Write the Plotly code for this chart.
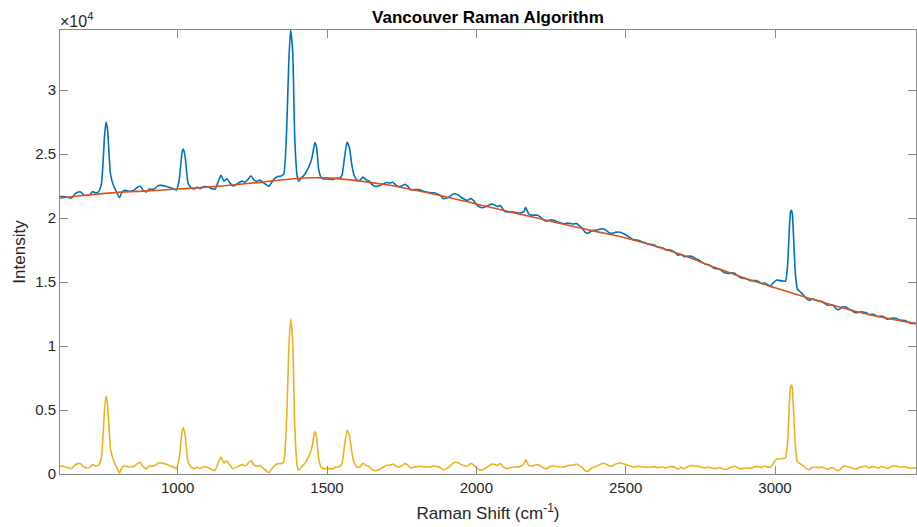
import plotly.graph_objects as go

# Raman shift sample positions (cm^-1)
shift = [
    605,615,625,635,645,655,665,675,685,695,
    705,715,725,735,745,755,760,765,775,785,
    795,805,815,825,835,845,855,865,875,885,
    895,905,915,925,935,945,955,965,975,985,
    995,1005,1015,1019,1025,1035,1045,1055,1065,1075,
    1085,1095,1105,1115,1125,1135,1145,1155,1165,1175,
    1185,1195,1205,1215,1225,1235,1245,1255,1265,1275,
    1285,1295,1305,1315,1325,1335,1345,1355,1365,1372,
    1378,1385,1392,1400,1405,1415,1425,1435,1445,1452,
    1459,1465,1472,1480,1490,1500,1510,1520,1530,1540,
    1550,1558,1567,1575,1582,1590,1600,1610,
    1620,1630,1640,1650,1660,1670,1680,1690,1700,1710,
    1720,1730,1740,1750,1760,1770,1780,1790,1800,1810,
    1820,1830,1840,1850,1860,1870,1880,1890,1900,1910,
    1920,1930,1940,1950,1960,1970,1980,1990,2000,2010,
    2020,2030,2040,2050,2060,2070,2080,2090,2100,2110,
    2120,2130,2140,2150,2160,2165,2175,2185,2195,2205,
    2215,2225,2235,2245,2255,2265,2275,2285,2295,2305,
    2315,2325,2335,2345,2355,2365,2375,2385,2395,2405,
    2415,2425,2435,2445,2455,2465,2475,2485,2495,2505,
    2515,2525,2535,2545,2555,2565,
    2575,2585,2595,2605,2615,2625,2635,2645,2655,2665,
    2675,2685,2695,2705,2715,2725,2735,2745,2755,2765,
    2775,2785,2795,2805,2815,2825,2835,2845,2855,2865,
    2875,2885,2895,2905,2915,2925,2935,2945,2955,2965,
    2975,2985,2995,3005,3015,3025,3035,3042,3048,3052,
    3055,3058,3062,3068,3075,3085,3095,3105,3115,3125,
    3135,3145,3155,3165,3175,3185,3195,3205,3215,3225,
    3235,3245,3255,3265,3275,3285,3295,3305,3315,3325,
    3335,3345,3355,3365,3375,3385,3395,3405,3415,3425,
    3435,3445,3455,3465,3475,
]

# Raw spectrum (blue)
raw_intensity = [
    21683,21679,21656,21604,21577,21865,22020,22046,21812,21760,
    21811,22066,21983,22056,22729,26404,27510,26947,23444,22552,
    22051,21596,22079,22170,22103,22115,22206,22399,22490,22163,
    22044,22267,22251,22347,22542,22556,22518,22455,22365,22300,
    22183,22978,25193,25404,24808,22723,22389,22273,22419,22303,
    22449,22464,22403,22290,22260,22801,23344,22893,23071,22752,
    22510,22610,22762,22890,22810,23015,23301,22986,22876,22982,
    22797,22638,22477,22815,23100,23252,23275,23429,26976,32212,
    34700,33026,26257,23272,22883,23149,23414,23811,24339,24994,
    25910,25523,23829,23181,23055,23060,23039,23018,23128,23107,
    23346,24635,25920,25513,24324,23393,22981,22948,
    23202,23013,22901,22633,22496,22489,22586,22684,22782,22737,
    22796,22595,22471,22505,22641,22493,22213,22220,22227,22203,
    22127,22051,22001,21977,21980,21877,21749,21516,21570,21672,
    21851,21901,21794,21609,21476,21368,21521,21389,21073,20888,
    20808,20885,20987,21090,21036,20904,20979,20665,20480,20479,
    20477,20449,20395,20420,20547,20834,20337,20231,20229,20227,
    20069,19858,19751,19854,19853,19772,19666,19612,19558,19610,
    19584,19532,19584,19402,19193,18880,18828,18985,19037,19064,
    19142,19168,19038,18856,18804,18882,18908,18882,18752,18616,
    18474,18331,18293,18255,18139,18075,
    17985,17947,17909,17761,17710,17659,17504,17531,17454,17325,
    17091,17171,16989,17010,17024,16960,16818,16728,16560,16418,
    16380,16264,16095,16035,16005,15817,15708,15677,15725,15694,
    15481,15345,15288,15236,15134,15112,15115,15040,14887,14942,
    14789,14714,14952,15165,15119,15074,15080,16257,19214,20491,
    20600,20317,18592,15677,14453,14225,13995,13716,13570,13685,
    13617,13523,13507,13361,13188,13225,13183,12910,12849,13049,
    13066,12927,12814,12648,12613,12683,12648,12619,12441,12497,
    12423,12297,12353,12279,12100,12157,12187,12169,12051,12011,
    11997,11879,11760,11773,11733,
]

# Baseline-corrected spectrum (yellow)
corrected = [
    630,600,551,473,420,682,811,811,551,473,
    500,734,630,682,1334,4988,6084,5510,1986,1073,
    551,80,551,630,551,551,630,811,890,551,
    420,630,600,682,863,863,811,734,630,551,
    420,1200,3400,3605,3000,900,551,420,551,420,
    551,551,473,340,290,811,1334,863,1021,682,
    420,500,630,734,630,811,1073,734,600,682,
    473,290,105,420,682,811,811,942,4466,9686,
    12087,10469,3683,682,290,551,811,1203,1726,2378,
    3290,2900,1203,551,420,420,420,420,551,551,
    811,2117,3421,3030,1856,942,551,551,
    838,682,603,368,264,290,420,551,682,682,
    786,630,551,630,811,708,473,525,577,603,
    577,551,551,577,630,577,499,316,420,577,
    811,916,864,734,656,603,811,734,473,342,
    316,447,603,760,760,682,811,551,420,473,
    525,551,551,630,811,1125,682,630,682,734,
    630,473,420,577,630,603,551,551,551,656,
    682,682,786,656,499,238,238,447,551,630,
    760,838,760,630,630,760,838,864,786,708,
    630,551,577,603,551,551,
    525,551,577,499,525,551,473,577,577,525,
    368,525,420,525,629,655,603,603,525,473,
    525,499,420,446,499,394,368,420,551,603,
    473,420,446,473,446,499,577,577,499,629,
    551,551,864,1151,1177,1204,1282,2509,5510,6815,
    6946,6685,4988,2117,943,787,629,420,342,525,
    525,499,551,473,368,473,499,290,290,551,
    629,551,499,394,420,551,577,603,473,577,
    551,473,577,551,420,525,603,629,551,551,
    577,499,420,473,473,
]

# Fitted polynomial baseline (orange)
baseline_shift = [600,700,800,900,1000,1100,1200,1300,1400,1450,1500,1600,1700,1800,1900,
                  2000,2100,2200,2300,2400,2500,2600,2700,2800,2900,3000,3100,3200,3300,3400,3480]
baseline = [21540,21800,22010,22130,22270,22420,22620,22860,23090,23150,23140,22930,22600,22150,21650,
            21100,20560,20020,19480,18960,18440,17800,17030,16130,15300,14550,13830,13150,12540,12060,11740]

x_ticks = [1000, 1500, 2000, 2500, 3000]
x_tick_text = ["1000", "1500", "2000", "2500", "3000"]
y_ticks = [0, 5000, 10000, 15000, 20000, 25000, 30000]
y_tick_text = ["0", "0.5", "1", "1.5", "2", "2.5", "3"]

FONT = "Liberation Sans, Arial, Helvetica, sans-serif"
AX = "#8a8a8a"
TXT = "#262626"

fig = go.Figure()
fig.add_trace(go.Scatter(x=shift, y=raw_intensity, mode="lines",
                         line=dict(color="#0072BD", width=1.6, shape="spline", smoothing=0.5),
                         showlegend=False))
fig.add_trace(go.Scatter(x=baseline_shift, y=baseline, mode="lines",
                         line=dict(color="#D95319", width=1.6, shape="spline", smoothing=1.0),
                         showlegend=False))
fig.add_trace(go.Scatter(x=shift, y=corrected, mode="lines",
                         line=dict(color="#EDB120", width=1.6, shape="spline", smoothing=0.5),
                         showlegend=False))

fig.update_layout(
    width=917, height=527,
    margin=dict(l=60, r=1, t=30, b=53),
    paper_bgcolor="white", plot_bgcolor="white",
    font=dict(family=FONT, size=15, color=TXT),
    title=dict(text="<b>Vancouver Raman Algorithm</b>", x=0.5, xref="paper", xanchor="center",
               y=0.967, yref="container", yanchor="middle",
               font=dict(family=FONT, size=17, color="black")),
    showlegend=False,
)
fig.update_xaxes(range=[606, 3472], tickvals=x_ticks, ticktext=x_tick_text,
                 showgrid=False, zeroline=False, showline=True, linecolor=AX, linewidth=1,
                 mirror="allticks", ticks="inside", ticklen=8, tickcolor=AX,
                 tickfont=dict(family=FONT, size=15, color=TXT),
                 title=dict(text="Raman Shift (cm<sup>-1</sup>)", standoff=12,
                            font=dict(family=FONT, size=17, color=TXT)))
fig.update_yaxes(range=[0, 34700], tickvals=y_ticks, ticktext=y_tick_text,
                 showgrid=False, zeroline=False, showline=True, linecolor=AX, linewidth=1,
                 mirror="allticks", ticks="inside", ticklen=8, tickcolor=AX,
                 tickfont=dict(family=FONT, size=15, color=TXT),
                 title=dict(text="Intensity", standoff=5,
                            font=dict(family=FONT, size=17, color=TXT)))
fig.add_annotation(x=0, y=1, xref="paper", yref="paper", xanchor="left", yanchor="bottom",
                   text="×10<sup>4</sup>", showarrow=False, xshift=-2, yshift=-2,
                   font=dict(family=FONT, size=16, color=TXT))

fig.write_html("out.html", config={"displayModeBar": False},
               post_script="document.body.style.margin='0px';document.body.style.overflow='hidden';")
